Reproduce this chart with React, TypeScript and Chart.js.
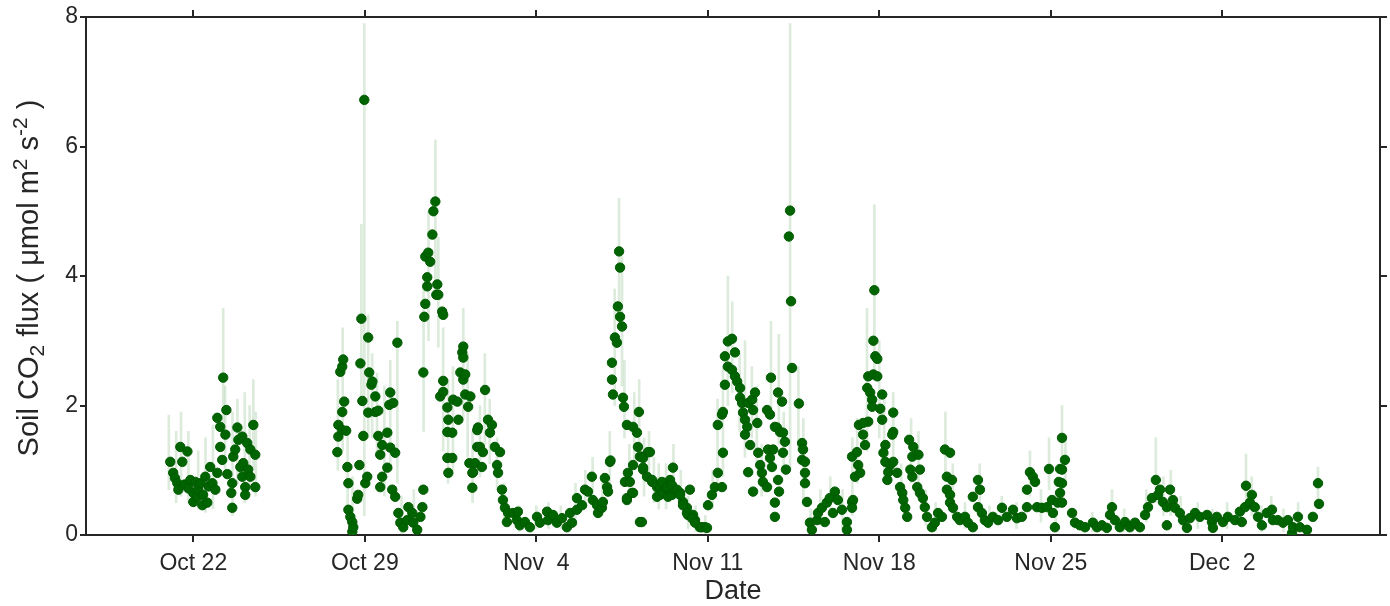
import { useEffect, useRef } from 'react';
import { Chart, registerables } from 'chart.js';

Chart.register(...registerables);

// x values are days after Oct 22 (00:00); y values are soil CO2 flux
const tickDays = [0, 7, 14, 21, 28, 35, 42];
const tickLabels = ['Oct 22', 'Oct 29', 'Nov  4', 'Nov 11', 'Nov 18', 'Nov 25', 'Dec  2'];
const yTicks = [0, 2, 4, 6, 8];
const X_MIN = -4.38;
const X_MAX = 48.44;
const Y_MIN = 0;
const Y_MAX = 8;

// y-axis title pieces; shift: 0 normal, -1 subscript, 1 superscript
const yTitleParts = ['Soil CO', '2', ' flux ( \u03bcmol m', '2', ' s', '-2', ' )'];
const yTitleShift = [0, -1, 0, 1, 0, 1, 0];
const xTitle = 'Date';

const octA: number[][] = [
  [-0.94, 1.13], [-0.82, 0.96], [-0.75, 0.88], [-0.65, 0.8], [-0.61, 0.7], [-0.53, 1.36], [-0.45, 1.13],
  [-0.35, 0.78], [-0.24, 1.29], [-0.2, 0.72], [-0.12, 0.85], [0, 0.65], [0, 0.51], [0.08, 0.82], [0.16, 0.59],
  [0.2, 0.7], [0.29, 0.8], [0.37, 0.46], [0.4, 0.62], [0.49, 0.9], [0.57, 0.5], [0.62, 0.75], [0.69, 1.05],
  [0.78, 0.8], [0.9, 0.7], [0.98, 0.96], [0.98, 1.81], [1.1, 1.67], [1.1, 1.36], [1.18, 1.16], [1.22, 2.43],
  [1.31, 1.55], [1.35, 1.93], [1.39, 0.94], [1.55, 0.65], [1.59, 0.8], [1.59, 0.42], [1.63, 1.21], [1.71, 1.32],
  [1.8, 1.66], [1.84, 1.47], [1.92, 1.05], [2.0, 1.52], [2.0, 0.9], [2.04, 1.11], [2.12, 0.74], [2.12, 0.62],
  [2.2, 1.42], [2.24, 1.01], [2.33, 1.32], [2.33, 0.9], [2.45, 1.7], [2.53, 1.24], [2.53, 0.74],
];

const octB: number[][] = [
  [5.88, 1.28], [5.92, 1.7], [5.92, 1.52], [6.0, 2.52], [6.08, 2.6], [6.08, 1.9], [6.08, 1.62], [6.12, 2.71],
  [6.16, 2.06], [6.24, 1.61], [6.29, 1.05], [6.33, 0.8], [6.33, 0.39], [6.41, 0.28], [6.49, 0.2], [6.49, 0.05],
  [6.53, 0.12], [6.69, 0.56], [6.73, 0.62], [6.78, 1.08], [6.82, 2.65], [6.86, 3.34], [6.9, 2.07], [6.94, 1.53],
  [6.98, 6.72], [7.02, 0.8], [7.1, 0.9], [7.14, 3.05], [7.14, 1.89], [7.18, 2.51], [7.27, 2.32], [7.31, 2.37],
  [7.43, 2.14], [7.43, 1.9], [7.55, 1.92], [7.55, 1.53], [7.63, 1.24], [7.63, 0.74], [7.71, 1.39], [7.71, 0.9],
  [7.92, 1.58], [7.92, 1.04], [8.0, 2.01], [8.04, 2.2], [8.04, 1.35], [8.12, 0.7], [8.16, 2.04], [8.24, 1.27],
  [8.24, 0.59], [8.33, 2.97], [8.37, 0.34], [8.45, 0.19], [8.57, 0.12], [8.73, 0.23], [8.78, 0.43], [8.94, 0.34],
  [8.98, 0.19], [9.14, 0.08], [9.27, 0.28], [9.35, 0.43], [9.39, 0.7], [9.39, 2.51], [9.43, 3.37], [9.47, 3.57],
  [9.47, 4.3], [9.55, 3.84], [9.55, 3.98], [9.59, 4.36], [9.67, 4.22], [9.76, 4.64], [9.8, 5.0], [9.88, 5.15],
  [9.92, 3.71], [9.96, 3.87], [10.0, 3.71], [10.08, 2.14], [10.16, 3.45], [10.2, 3.4], [10.2, 2.38], [10.2, 2.21],
  [10.37, 1.97], [10.37, 1.59], [10.37, 1.19], [10.41, 1.78], [10.41, 0.96], [10.57, 1.58], [10.57, 1.19],
  [10.61, 2.09], [10.78, 2.06], [10.82, 1.78], [10.9, 2.51], [10.98, 2.82], [11.02, 2.91], [11.02, 2.74],
  [11.02, 2.4], [11.1, 2.48], [11.1, 2.17], [11.22, 1.98], [11.27, 1.11], [11.31, 2.14], [11.39, 0.96], [11.39, 0.73],
];

const novA: number[][] = [
  [11.42, 0.97], [11.5, 1.11], [11.59, 1.62], [11.59, 1.36], [11.62, 1.66], [11.7, 1.36], [11.78, 1.05],
  [11.82, 1.28], [11.91, 2.24], [12.03, 1.78], [12.11, 1.58], [12.19, 1.7], [12.31, 1.36], [12.4, 1.08],
  [12.44, 0.96], [12.52, 1.28], [12.6, 0.7], [12.64, 0.54], [12.72, 0.42], [12.8, 0.2], [12.85, 0.34],
  [13.05, 0.34], [13.21, 0.23], [13.25, 0.36], [13.33, 0.15], [13.54, 0.2], [13.74, 0.12], [14.03, 0.28],
  [14.15, 0.19], [14.44, 0.36], [14.48, 0.23], [14.68, 0.31], [14.84, 0.19], [15.05, 0.26], [15.25, 0.12],
  [15.38, 0.34], [15.46, 0.19], [15.66, 0.39], [15.66, 0.57], [15.87, 0.46], [15.99, 0.7], [16.11, 0.67],
  [16.27, 0.9], [16.31, 0.54], [16.48, 0.46], [16.52, 0.34], [16.68, 0.42], [16.72, 0.51], [16.8, 0.88],
  [16.89, 0.74], [16.93, 0.67], [17.01, 1.13], [17.03, 1.15], [17.09, 2.66], [17.09, 2.4], [17.13, 2.17],
  [17.21, 3.05], [17.29, 2.97], [17.33, 3.53], [17.38, 4.38], [17.42, 4.13], [17.42, 3.37], [17.5, 3.22],
  [17.54, 2.12], [17.58, 1.98], [17.62, 0.82], [17.7, 1.7], [17.7, 0.54], [17.7, 0.57], [17.74, 0.96],
  [17.82, 0.82], [17.91, 0.65], [17.95, 1.67], [17.95, 1.08], [17.95, 0.65], [18.11, 1.58], [18.15, 1.36],
  [18.19, 1.9], [18.23, 1.21], [18.23, 0.2], [18.31, 1.21], [18.31, 0.2], [18.36, 1.19], [18.36, 1.01],
  [18.36, 1.04], [18.52, 0.9], [18.56, 1.28], [18.64, 1.28], [18.73, 0.82], [18.73, 0.85], [18.93, 0.74],
  [18.93, 0.77], [18.93, 0.59], [19.05, 0.62], [19.05, 0.74], [19.17, 0.65], [19.25, 0.73], [19.33, 0.74],
  [19.38, 0.59], [19.46, 0.85], [19.54, 0.62], [19.58, 1.04], [19.66, 0.7], [19.87, 0.65], [19.99, 0.51],
  [20.27, 0.7], [20.15, 0.42], [20.19, 0.31], [20.4, 0.31], [20.48, 0.23], [20.68, 0.12], [20.89, 0.12],
];

const novB: number[][] = [
  [19.13, 0.82], [19.33, 0.74], [19.54, 0.77], [19.74, 0.7], [19.87, 0.62], [19.99, 0.46], [20.15, 0.34],
  [20.36, 0.26], [20.48, 0.19], [20.76, 0.12], [20.97, 0.11], [21.01, 0.46], [21.17, 0.62], [21.29, 0.74],
  [21.41, 0.96], [21.58, 0.74], [21.62, 1.27], [21.41, 1.7], [21.58, 1.86], [21.62, 1.9], [21.7, 2.32],
  [21.7, 2.76], [21.82, 2.99], [21.99, 3.03], [22.11, 2.82], [21.82, 2.6], [21.99, 2.55], [22.11, 2.45],
  [22.2, 2.37], [22.32, 2.27], [22.32, 2.12], [22.4, 2.04], [22.44, 1.89], [22.52, 1.78], [22.61, 1.67],
  [22.52, 1.55], [22.73, 1.39], [22.65, 2.04], [22.81, 2.09], [22.93, 2.2], [22.85, 1.93], [23.02, 1.73],
  [23.06, 1.27], [23.14, 1.08], [22.65, 0.97], [23.21, 0.96], [23.25, 0.82], [22.85, 0.67], [23.42, 0.74],
  [23.42, 1.93], [23.54, 1.86], [23.58, 2.43], [23.46, 1.32], [23.54, 1.19], [23.62, 1.05], [23.67, 1.32],
  [23.74, 1.67], [23.82, 1.66], [23.87, 2.2], [24.03, 2.06], [23.95, 1.59], [24.07, 1.58], [24.15, 1.44],
  [24.07, 1.27], [23.87, 0.85], [23.91, 0.67], [23.74, 0.5], [23.74, 0.28], [24.19, 1.01], [24.36, 5.01],
  [24.31, 4.61], [24.4, 3.61], [24.44, 2.58], [24.72, 2.03], [24.85, 1.42], [24.89, 1.32], [24.85, 1.16],
  [24.97, 1.13], [24.97, 0.96], [24.97, 0.8], [25.05, 0.51], [25.17, 0.19], [25.25, 0.08], [25.46, 0.23],
  [25.5, 0.34], [25.66, 0.42], [25.86, 0.5], [25.98, 0.57], [26.19, 0.67], [26.31, 0.54], [25.78, 0.2],
  [26.11, 0.34], [26.48, 0.39], [26.68, 0.2], [26.68, 0.08], [26.89, 0.51], [27.01, 0.9], [26.89, 1.21],
  [27.09, 1.28], [27.17, 1.7],
];

const novC: number[][] = [
  [27.8, 3.78], [27.76, 3.0], [27.84, 2.76], [27.92, 2.72], [27.55, 2.45], [27.76, 2.48], [27.92, 2.45],
  [27.51, 2.27], [27.63, 2.2], [28.12, 2.17], [27.71, 2.09], [27.71, 1.98], [28.04, 1.95], [28.12, 1.78],
  [27.55, 1.75], [27.34, 1.73], [27.34, 1.55], [27.42, 1.39], [27.14, 1.08], [27.22, 0.96], [26.93, 0.54],
  [26.89, 0.42], [28.57, 1.89], [28.57, 1.59], [28.53, 1.55], [28.25, 1.39], [28.17, 1.27], [28.25, 1.13],
  [28.44, 1.08], [28.57, 1.13], [28.37, 0.97], [28.73, 0.96], [28.33, 0.85], [28.85, 0.74], [28.94, 0.65],
  [28.98, 0.54], [29.06, 0.42], [29.14, 0.28], [29.22, 1.47], [29.39, 1.36], [29.35, 1.21], [29.6, 1.24],
  [29.66, 1.01], [29.27, 1.01], [29.35, 0.9], [29.55, 0.74], [29.66, 0.65], [29.78, 0.57], [29.86, 0.43],
  [29.95, 0.28], [30.15, 0.12], [30.27, 0.19], [30.4, 0.34], [30.56, 0.28], [30.68, 1.32], [30.89, 1.27],
  [30.76, 0.9], [30.97, 0.85], [30.76, 0.7], [30.89, 0.62], [30.89, 0.5], [31.01, 0.42], [31.18, 0.28],
  [31.29, 0.23], [31.5, 0.28], [31.62, 0.19], [31.82, 0.12], [31.82, 0.59], [32.03, 0.85], [32.11, 0.7],
  [32.03, 0.43], [32.19, 0.34], [32.31, 0.23], [32.44, 0.19], [32.64, 0.28], [32.85, 0.23], [33.01, 0.42],
  [33.21, 0.28], [33.46, 0.39], [33.62, 0.26], [33.82, 0.28], [34.03, 0.7], [34.03, 0.43], [34.15, 0.97],
  [34.27, 0.9], [34.36, 0.82], [34.44, 0.43], [34.64, 0.42], [34.85, 0.43], [34.93, 1.02], [35.05, 0.54],
  [35.09, 0.34], [35.17, 0.12], [35.29, 0.5], [35.38, 0.65], [35.33, 0.82], [35.38, 1.02], [35.46, 1.5],
  [35.58, 1.16],
];

const decA: number[][] = [
  [35.46, 1.01], [35.46, 0.8], [35.46, 0.5], [35.87, 0.34], [35.99, 0.19], [36.19, 0.15], [36.4, 0.12],
  [36.72, 0.19], [36.89, 0.12], [37.09, 0.15], [37.29, 0.11], [37.5, 0.43], [37.42, 0.31], [37.62, 0.23],
  [37.82, 0.12], [38.03, 0.2], [38.23, 0.12], [38.44, 0.19], [38.64, 0.12], [38.85, 0.31], [38.97, 0.43],
  [39.13, 0.57], [39.29, 0.85], [39.38, 0.62], [39.46, 0.7], [39.58, 0.51], [39.74, 0.43], [39.87, 0.7],
  [39.99, 0.54], [39.74, 0.15], [40.07, 0.42], [40.27, 0.34], [40.4, 0.23], [40.56, 0.11], [40.68, 0.26],
  [40.89, 0.34], [41.09, 0.28], [41.38, 0.31], [41.58, 0.2], [41.62, 0.11], [41.78, 0.28], [42.03, 0.2],
  [42.23, 0.28], [42.52, 0.23], [42.72, 0.36], [42.8, 0.2], [42.93, 0.43], [42.97, 0.76], [43.13, 0.5],
  [43.21, 0.62], [43.33, 0.43], [43.46, 0.28], [43.62, 0.15], [43.82, 0.34], [44.03, 0.39], [44.07, 0.23],
  [44.27, 0.23], [44.48, 0.19], [44.68, 0.23], [44.85, 0.03], [44.89, 0.12], [45.09, 0.28], [45.17, 0.12],
  [45.46, 0.08], [45.7, 0.28], [45.95, 0.48], [45.91, 0.8],
];

// uncertainty streaks: [day, low, high]
const bandOct: number[][] = [
  [-1.0, 0.7, 1.85], [-0.7, 0.5, 1.6], [-0.5, 0.6, 1.9], [-0.2, 0.5, 1.6], [0.2, 0.4, 1.3], [0.5, 0.35, 1.5],
  [0.8, 0.4, 1.7], [1.22, 1.6, 3.5], [1.3, 0.9, 2.3], [1.6, 0.3, 1.9], [1.8, 0.8, 2.1], [2.1, 0.5, 2.2],
  [2.3, 0.7, 2.0], [2.45, 1.0, 2.4], [2.55, 0.6, 1.9],
  [5.9, 1.0, 2.4], [6.1, 1.3, 3.2], [6.3, 0.2, 1.6], [6.5, 0.0, 0.9], [6.98, 0.3, 7.9], [6.86, 2.0, 4.8],
  [7.14, 1.5, 3.4], [7.3, 1.5, 2.8], [7.5, 1.2, 2.5], [7.8, 0.6, 2.3], [8.04, 1.0, 2.7], [8.33, 0.8, 3.3],
  [8.5, 0.0, 0.6], [9.0, 0.0, 0.7], [9.4, 1.6, 3.9], [9.6, 3.0, 5.0], [9.88, 3.8, 6.1], [10.0, 2.9, 4.6],
  [10.2, 1.3, 3.2], [10.4, 0.8, 2.4], [10.6, 1.0, 2.6], [11.02, 1.8, 3.5], [11.2, 1.2, 2.8], [11.4, 0.5, 1.6],
];
const bandNov: number[][] = [
  [11.7, 0.9, 2.0], [11.9, 1.4, 2.8], [12.1, 1.1, 2.1], [12.4, 0.7, 1.5], [12.7, 0.2, 0.8], [13.3, 0.05, 0.45],
  [14.0, 0.1, 0.45], [14.5, 0.1, 0.5], [15.0, 0.1, 0.45], [15.6, 0.25, 0.8], [16.0, 0.4, 1.0], [16.3, 0.6, 1.2],
  [16.7, 0.3, 0.9], [17.0, 0.8, 1.6], [17.2, 2.0, 3.8], [17.38, 3.2, 5.2], [17.5, 2.3, 4.3], [17.6, 1.5, 2.7],
  [17.8, 0.5, 1.4], [18.0, 1.1, 2.2], [18.2, 1.3, 2.4], [18.4, 0.6, 1.5], [18.6, 0.9, 1.6], [18.8, 0.5, 1.2],
  [19.0, 0.4, 1.1], [19.3, 0.4, 1.1], [19.6, 0.6, 1.4], [19.9, 0.4, 1.0], [20.2, 0.1, 0.6], [20.5, 0.05, 0.45],
  [20.9, 0.02, 0.3], [21.2, 0.4, 1.0], [21.4, 0.7, 2.1], [21.62, 0.9, 2.6], [21.82, 2.0, 4.0], [22.0, 2.2, 3.6],
  [22.3, 1.6, 2.8], [22.52, 1.2, 3.0], [22.8, 1.5, 2.6], [23.0, 1.1, 2.3], [23.2, 0.6, 1.4], [23.58, 1.8, 3.3],
  [23.9, 1.4, 3.1], [24.1, 1.0, 1.9], [24.36, 1.0, 7.9], [24.7, 1.3, 2.6], [24.9, 0.5, 1.8], [25.2, 0.05, 0.4],
  [25.6, 0.2, 0.7], [26.0, 0.3, 0.9], [26.5, 0.1, 0.7], [26.9, 0.3, 1.5], [27.1, 0.8, 1.8], [27.5, 1.3, 3.5],
  [27.8, 2.5, 5.1], [28.0, 1.5, 3.0], [28.2, 0.9, 2.2], [28.57, 1.2, 2.2], [28.9, 0.4, 1.1], [29.3, 0.8, 1.8],
  [29.6, 0.7, 1.6], [29.9, 0.15, 0.7], [30.3, 0.05, 0.5], [30.7, 0.9, 1.9], [31.0, 0.3, 1.1], [31.5, 0.1, 0.5],
  [32.1, 0.4, 1.1], [32.5, 0.1, 0.45], [33.0, 0.2, 0.6], [33.6, 0.1, 0.5], [34.15, 0.6, 1.3], [34.6, 0.2, 0.7],
  [34.93, 0.7, 1.5], [35.2, 0.05, 0.6], [35.46, 1.1, 2.0], [35.6, 0.8, 1.5],
];
const bandDec: number[][] = [
  [36.0, 0.1, 0.4], [36.7, 0.05, 0.35], [37.5, 0.2, 0.7], [38.0, 0.05, 0.4], [38.9, 0.2, 0.7], [39.29, 0.5, 1.5],
  [39.6, 0.3, 0.9], [39.9, 0.3, 1.0], [40.3, 0.15, 0.6], [41.0, 0.1, 0.5], [41.6, 0.05, 0.4], [42.2, 0.1, 0.5],
  [42.97, 0.45, 1.25], [43.2, 0.3, 0.9], [43.6, 0.05, 0.45], [44.0, 0.2, 0.6], [44.5, 0.05, 0.4], [45.1, 0.1, 0.5],
  [45.91, 0.5, 1.05],
];

const axisColor = '#262626';
const FONT = '"Liberation Sans", Arial, Helvetica, sans-serif';

function labelFor(v: number): string {
  const i = tickDays.indexOf(v);
  return i >= 0 ? tickLabels[i] : '';
}

// draws the rotated y-axis title with real sub/superscripts
const yTitlePlugin = {
  id: 'yTitleRich',
  afterDraw(chart: any) {
    const { ctx, chartArea } = chart;
    const big = 29;
    const small = 21;
    const fontOf = (s: number) => `${s === 0 ? big : small}px ${FONT}`;
    ctx.save();
    let total = 0;
    const widths = yTitleParts.map((t, i) => {
      ctx.font = fontOf(yTitleShift[i]);
      const w = ctx.measureText(t).width;
      total += w;
      return w;
    });
    const cy = (chartArea.top + chartArea.bottom) / 2 + 2;
    const cx = 28;
    ctx.translate(cx, cy);
    ctx.rotate(-Math.PI / 2);
    ctx.fillStyle = axisColor;
    ctx.textAlign = 'left';
    ctx.textBaseline = 'alphabetic';
    let x = -total / 2;
    const base = 10;
    yTitleParts.forEach((t, i) => {
      const sh = yTitleShift[i];
      ctx.font = fontOf(sh);
      const y = sh === 0 ? base : sh < 0 ? base + 6 : base - 11;
      ctx.fillText(t, x, y);
      x += widths[i];
    });
    ctx.restore();
  },
};

export default function App() {
  const ref = useRef<HTMLCanvasElement>(null);

  useEffect(() => {
    document.body.style.margin = '0';
    const canvas = ref.current;
    if (!canvas) return;
    Chart.defaults.font.family = FONT;

    const points = [...octA, ...octB, ...novA, ...novB, ...novC, ...decA].map((p) => ({ x: p[0], y: p[1] }));
    const band = [...bandOct, ...bandNov, ...bandDec].map((b) => ({ x: b[0], y: [b[1], b[2]] }));

    const gridCfg = (len: number) => ({
      display: true,
      offset: false,
      drawOnChartArea: false,
      drawTicks: true,
      tickLength: len,
      tickColor: axisColor,
      tickWidth: 2,
      color: axisColor,
      lineWidth: 2,
    });
    const borderCfg = { display: true, color: axisColor, width: 2 };

    const chart = new Chart(canvas, {
      type: 'scatter',
      data: {
        datasets: [
          {
            type: 'bar',
            data: band as any,
            backgroundColor: 'rgba(140,190,140,0.3)',
            borderWidth: 0,
            barThickness: 2,
            grouped: false,
            order: 2,
            xAxisID: 'x',
            yAxisID: 'y',
          } as any,
          {
            type: 'scatter',
            data: points,
            pointRadius: 4.7,
            pointBackgroundColor: '#006400',
            pointBorderColor: '#005a00',
            pointBorderWidth: 1,
            order: 1,
            xAxisID: 'x',
            yAxisID: 'y',
          },
        ],
      },
      options: {
        responsive: false,
        animation: false,
        devicePixelRatio: 1,
        layout: { padding: 0 },
        plugins: { legend: { display: false }, tooltip: { enabled: false } },
        scales: {
          x: {
            type: 'linear',
            position: 'bottom',
            min: X_MIN,
            max: X_MAX,
            offset: false,
            afterBuildTicks: (s: any) => {
              s.ticks = tickDays.map((v) => ({ value: v }));
            },
            afterFit: (s: any) => {
              s.height = 71;
            },
            ticks: {
              callback: (v: any) => labelFor(Number(v)),
              color: axisColor,
              font: { size: 23 },
              padding: 8,
              maxRotation: 0,
              autoSkip: false,
            },
            grid: gridCfg(7),
            border: borderCfg,
            title: {
              display: true,
              text: xTitle,
              color: axisColor,
              font: { size: 27, lineHeight: 1 },
              padding: { top: 0, bottom: 0.5 },
            },
          },
          x2: {
            type: 'linear',
            position: 'top',
            min: X_MIN,
            max: X_MAX,
            offset: false,
            afterBuildTicks: (s: any) => {
              s.ticks = tickDays.map((v) => ({ value: v }));
            },
            afterFit: (s: any) => {
              s.height = 17;
            },
            ticks: { display: false },
            grid: gridCfg(7),
            border: borderCfg,
          },
          y: {
            type: 'linear',
            position: 'left',
            min: Y_MIN,
            max: Y_MAX,
            afterBuildTicks: (s: any) => {
              s.ticks = yTicks.map((v) => ({ value: v }));
            },
            afterFit: (s: any) => {
              s.width = 86;
            },
            ticks: { color: axisColor, font: { size: 23 }, padding: 2 },
            grid: gridCfg(6),
            border: borderCfg,
          },
          y2: {
            type: 'linear',
            position: 'right',
            min: Y_MIN,
            max: Y_MAX,
            afterBuildTicks: (s: any) => {
              s.ticks = yTicks.map((v) => ({ value: v }));
            },
            afterFit: (s: any) => {
              s.width = 10;
            },
            ticks: { display: false },
            grid: gridCfg(7),
            border: borderCfg,
          },
        },
      } as any,
      plugins: [yTitlePlugin],
    });

    return () => chart.destroy();
  }, []);

  return (
    <div style={{ position: 'absolute', left: 0, top: 0, width: 1390, height: 606, background: '#ffffff' }}>
      <canvas ref={ref} width={1390} height={606} style={{ width: 1390, height: 606, display: 'block' }} />
    </div>
  );
}
